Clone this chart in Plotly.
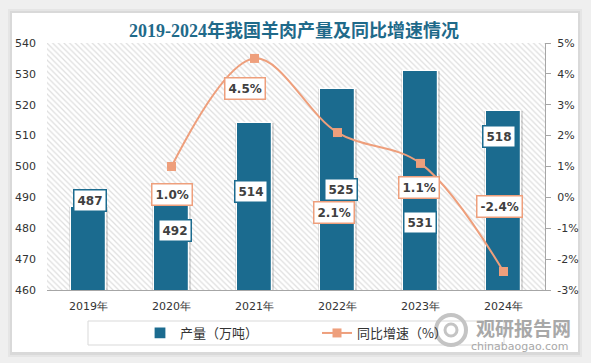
import plotly.graph_objects as go

# ---- data ----
years = ["2019年", "2020年", "2021年", "2022年", "2023年", "2024年"]
output_wt = [487, 492, 514, 525, 531, 518]          # 产量（万吨）
growth_pct = [None, 1.0, 4.5, 2.1, 1.1, -2.4]        # 同比增速（%）
left_ticks = [460, 470, 480, 490, 500, 510, 520, 530, 540]
right_ticks = [-3, -2, -1, 0, 1, 2, 3, 4, 5]

# ---- style ----
BAR_COLOR = "#1B6B8F"
LINE_COLOR = "#EE9F7C"
TXT = "#333333"
W, H = 591, 363
L, R, T, B = 47, 46, 43, 73
PW, PH = W - L - R, H - T - B

def px(xp):
    return (xp - L) / PW

def py(yp):
    return (H - B - yp) / PH

# label pixel offsets (xshift, yshift) relative to data point
bar_label_off = [(1, 6), (3.5, -39), (-3.5, -68), (3, -100), (-1, -152), (-5, -26)]
line_label_off = [None, (0, -28), (-9.5, -30), (-4, -80), (-2, -24), (-4, 65)]

fig = go.Figure()

# hatched plot background (decorative)
fig.add_trace(go.Bar(
    x=[0.5], y=[1], width=[1], xaxis="x", yaxis="y",
    marker=dict(color="white", line=dict(width=0),
                pattern=dict(shape="\\", fgcolor="#bdbdbd", bgcolor="white",
                             size=4, solidity=0.3)),
    hoverinfo="skip", showlegend=False))

# soft shadow behind bars
fig.add_trace(go.Bar(
    x=years, y=output_wt, xaxis="x2", yaxis="y2", width=0.47,
    marker=dict(color="rgba(0,0,0,0.13)", line=dict(width=0)),
    hoverinfo="skip", showlegend=False))

fig.add_trace(go.Bar(
    x=years, y=output_wt, xaxis="x2", yaxis="y2", name="产量（万吨）",
    width=0.42, marker=dict(color=BAR_COLOR, line=dict(color="white", width=1.2))))

fig.add_trace(go.Scatter(
    x=years, y=growth_pct, xaxis="x2", yaxis="y3", name="同比增速（%）",
    mode="lines+markers", line=dict(color=LINE_COLOR, width=2, shape="spline", smoothing=1.0),
    marker=dict(symbol="square", size=9, color=LINE_COLOR), connectgaps=False))

annotations = []
for i, (yr, v) in enumerate(zip(years, output_wt)):
    dx, dy = bar_label_off[i]
    annotations.append(dict(
        x=yr, y=v, xref="x2", yref="y2", text=f"<b>{v}</b>", showarrow=False,
        xshift=dx, yshift=dy, bgcolor="white", bordercolor=BAR_COLOR, borderwidth=1.5,
        borderpad=3, font=dict(family="DejaVu Sans", size=12, color="#404040")))
for i, (yr, v) in enumerate(zip(years, growth_pct)):
    if v is None:
        continue
    dx, dy = line_label_off[i]
    annotations.append(dict(
        x=yr, y=v, xref="x2", yref="y3", text=f"<b>{v:.1f}%</b>", showarrow=False,
        xshift=dx, yshift=dy, bgcolor="white", bordercolor=LINE_COLOR, borderwidth=1.5,
        borderpad=3, font=dict(family="DejaVu Sans", size=12, color="#404040")))

# title
annotations.append(dict(
    x=px(W / 2 - 2), y=py(31), xref="paper", yref="paper", showarrow=False,
    xanchor="center", yanchor="middle",
    text="<b>2019-2024年我国羊肉产量及同比增速情况</b>",
    font=dict(family="Liberation Serif, Noto Sans CJK SC", size=18, color="#1F6A8A")))

# watermark
annotations.append(dict(
    x=px(523), y=py(327), xref="paper", yref="paper", showarrow=False,
    xanchor="center", yanchor="middle",
    text="<b>观研报告网</b>", font=dict(family="Noto Sans CJK SC", size=19, color="#a8a8a8")))
annotations.append(dict(
    x=px(520), y=py(346), xref="paper", yref="paper", showarrow=False,
    xanchor="center", yanchor="middle",
    text="chinabaogao.com", font=dict(family="DejaVu Sans", size=11, color="#a8a8a8")))

shapes = [
    # card shadow + card
    dict(type="rect", xref="paper", yref="paper", x0=px(8), x1=px(582), y0=py(357), y1=py(9),
         fillcolor="rgba(0,0,0,0.04)", line=dict(width=0), layer="below"),
    dict(type="rect", xref="paper", yref="paper", x0=px(10), x1=px(580), y0=py(355), y1=py(11),
         fillcolor="rgba(0,0,0,0.05)", line=dict(width=0), layer="below"),
    dict(type="rect", xref="paper", yref="paper", x0=px(12), x1=px(578), y0=py(352), y1=py(13),
         fillcolor="white", line=dict(width=0), layer="below"),
    # legend box
    dict(type="rect", xref="paper", yref="paper", x0=px(88), x1=px(504), y0=py(345), y1=py(321),
         fillcolor="rgba(0,0,0,0)", line=dict(color="#d9d9d9", width=1), layer="above"),
    # watermark logo
    dict(type="circle", xref="paper", yref="paper", x0=px(436), x1=px(466), y0=py(345), y1=py(315),
         fillcolor="rgba(0,0,0,0)", line=dict(color="#c4c4c4", width=4), layer="above"),
    dict(type="circle", xref="paper", yref="paper", x0=px(445), x1=px(457), y0=py(336), y1=py(324),
         fillcolor="rgba(0,0,0,0)", line=dict(color="#c4c4c4", width=3), layer="above"),
]

fig.update_layout(
    width=W, height=H, margin=dict(l=L, r=R, t=T, b=B, autoexpand=False),
    paper_bgcolor="#efefef", plot_bgcolor="rgba(0,0,0,0)",
    barmode="overlay", bargap=0,
    font=dict(family="DejaVu Sans", size=11, color=TXT),
    showlegend=True,
    legend=dict(orientation="h", x=px(140), y=py(333), xanchor="left", yanchor="middle",
                bgcolor="rgba(0,0,0,0)", font=dict(family="Noto Sans CJK SC", size=13, color=TXT),
                entrywidth=132, entrywidthmode="pixels", itemwidth=30, traceorder="normal"),
    xaxis=dict(range=[0, 1], visible=False, fixedrange=True),
    yaxis=dict(range=[0, 1], visible=False, fixedrange=True),
    xaxis2=dict(overlaying="x", anchor="y2", type="category", showline=True,
                linecolor="#a6a6a6", linewidth=1.2, ticks="", showgrid=False,
                tickfont=dict(family="DejaVu Sans", size=11, color=TXT), ticklabelstandoff=6),
    yaxis2=dict(overlaying="y", anchor="x2", side="left", range=[460, 540],
                tickvals=left_ticks, showgrid=False, zeroline=False, showline=False,
                ticklabelstandoff=10, tickfont=dict(size=11, color=TXT)),
    yaxis3=dict(overlaying="y", anchor="x2", side="right", range=[-3, 5],
                tickvals=right_ticks, ticktext=[f"{t}%" for t in right_ticks],
                showgrid=False, zeroline=False, showline=True, linecolor="#a6a6a6",
                ticks="outside", ticklen=5, tickcolor="#a6a6a6", ticklabelstandoff=4,
                tickfont=dict(size=11, color=TXT)),
    annotations=annotations, shapes=shapes,
)

fig.write_html("out.html", config={"displayModeBar": False},
               post_script="document.body.style.margin='0';document.body.style.overflow='hidden';")
